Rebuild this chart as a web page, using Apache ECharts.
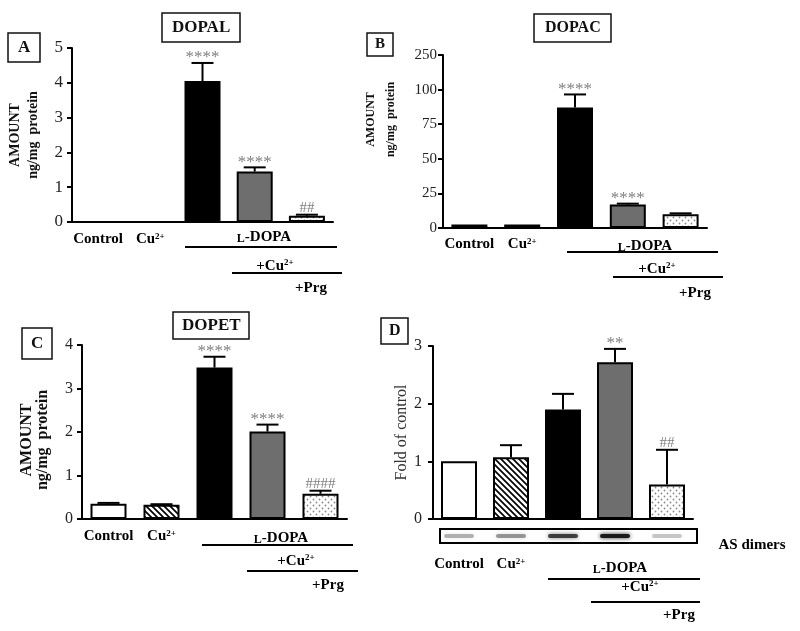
<!DOCTYPE html>
<html>
<head>
<meta charset="utf-8">
<script src="https://cdn.jsdelivr.net/npm/echarts@6/dist/echarts.min.js"></script>
<style>
  html, body { margin: 0; padding: 0; background: #fff; }
  #chart { width: 800px; height: 631px; }
</style>
</head>
<body>
<div id="chart"></div>
<script>
// groups, same order in every panel
const groups = ['Control', 'Cu2+', 'L-DOPA', 'L-DOPA+Cu2+', 'L-DOPA+Cu2+ +Prg']

// A - DOPAL (ng/mg protein)
const dopalMean = [0, 0, 4.05, 1.45, 0.18]
const dopalErr = [0, 0, 0.52, 0.12, 0.03]
const dopalSig = ['', '', '****', '****', '##']

// B - DOPAC (ng/mg protein), broken axis: last step goes 100 -> 250
const dopacMean = [2.5, 2.5, 87, 17, 10]
const dopacErr = [0, 0, 9.5, 0.6, 0.6]
const dopacSig = ['', '', '****', '****', '']
const dopacTicks = ['0', '25', '50', '75', '100', '250']

// C - DOPET (ng/mg protein)
const dopetMean = [0.35, 0.33, 3.48, 2.01, 0.58]
const dopetErr = [0.02, 0.01, 0.25, 0.16, 0.07]
const dopetSig = ['', '', '****', '****', '####']

// D - AS dimers (fold of control) and blot band density
const foldMean = [1.0, 1.07, 1.9, 2.72, 0.6]
const foldErr = [0, 0.21, 0.27, 0.23, 0.6]
const foldSig = ['', '', '', '**', '##']
const blotDensity = [0.3, 0.4, 0.75, 0.95, 0.22]

const serif = '"Liberation Serif", "DejaVu Serif", serif'

// fill patterns
const makeHatch = () => {
  const c = document.createElement('canvas')
  c.width = 6; c.height = 6
  const g = c.getContext('2d')
  g.strokeStyle = '#000'
  g.lineWidth = 1.7
  g.beginPath()
  g.moveTo(-3, 3); g.lineTo(3, 9)
  g.moveTo(0, 0); g.lineTo(6, 6)
  g.moveTo(3, -3); g.lineTo(9, 3)
  g.stroke()
  return c
}
const makeDots = () => {
  const c = document.createElement('canvas')
  c.width = 6; c.height = 6
  const g = c.getContext('2d')
  g.fillStyle = '#fff'
  g.fillRect(0, 0, 6, 6)
  g.fillStyle = '#8a8a8a'
  g.beginPath(); g.arc(1.5, 1.5, 0.9, 0, Math.PI * 2); g.fill()
  g.beginPath(); g.arc(4.5, 4.5, 0.9, 0, Math.PI * 2); g.fill()
  return c
}
const fills = [
  { color: '#fff' },
  { color: { image: makeHatch(), repeat: 'repeat' } },
  { color: '#000' },
  { color: '#6e6e6e' },
  { color: { image: makeDots(), repeat: 'repeat' } }
]

const grids = [
  { left: 72, top: 48, width: 261, height: 174 },
  { left: 443, top: 55, width: 264, height: 173 },
  { left: 82, top: 345, width: 265, height: 174 },
  { left: 433, top: 346, width: 260, height: 173 }
]

const blackLine = { show: true, lineStyle: { color: '#000', width: 2 } }

const xAxisFor = (idx, margin) => ({
  type: 'category',
  gridIndex: idx,
  data: groups,
  axisLine: blackLine,
  axisTick: { show: false },
  axisLabel: {
    margin: margin,
    interval: 0,
    color: '#000',
    fontFamily: serif,
    fontWeight: 'bold',
    fontSize: 15,
    formatter: (v, i) => i === 0 ? 'Control' : (i === 1 ? 'Cu{sup|2+}' : ''),
    rich: { sup: { fontSize: 9, fontWeight: 'bold', fontFamily: serif, verticalAlign: 'top', color: '#000' } }
  }
})

const yAxisFor = (idx, max, interval, fontSize, margin, name, nameOpts) => Object.assign({
  type: 'value',
  gridIndex: idx,
  min: 0,
  max: max,
  interval: interval,
  splitLine: { show: false },
  axisLine: blackLine,
  axisTick: { show: true, length: 5, lineStyle: { color: '#000', width: 2 } },
  axisLabel: { color: '#222', fontFamily: serif, fontSize: fontSize, margin: margin },
  name: name,
  nameLocation: 'middle',
  nameRotate: 90
}, nameOpts)

const barSeries = (idx, mean) => ({
  type: 'bar',
  xAxisIndex: idx,
  yAxisIndex: idx,
  barWidth: 36,
  silent: true,
  itemStyle: { borderColor: '#000', borderWidth: 2 },
  data: mean.map((v, i) => ({ value: v, itemStyle: fills[i] }))
})

const errSeries = (idx, mean, err, sig) => ({
  type: 'custom',
  xAxisIndex: idx,
  yAxisIndex: idx,
  z: 5,
  silent: true,
  data: mean.map((m, i) => [i, m, err[i]]),
  renderItem: (params, api) => {
    const i = api.value(0), m = api.value(1), e = api.value(2)
    const base = api.coord([i, m])
    const top = api.coord([i, m + e])
    const children = []
    if (e > 0.015 * m && e > 0) {
      children.push({ type: 'line', shape: { x1: base[0], y1: base[1], x2: top[0], y2: top[1] }, style: { stroke: '#000', lineWidth: 2 } })
      children.push({ type: 'line', shape: { x1: top[0] - 11, y1: top[1], x2: top[0] + 11, y2: top[1] }, style: { stroke: '#000', lineWidth: 2 } })
    }
    const label = sig[params.dataIndex]
    if (label) {
      const stars = label[0] === '*'
      children.push({
        type: 'text', x: top[0], y: top[1] - (stars ? 5 : 7),
        style: {
          text: label, fill: '#808080', align: 'center', verticalAlign: 'middle',
          font: (stars ? 17 : 15) + 'px ' + serif
        }
      })
    }
    return { type: 'group', children: children }
  }
})

// blot bands under panel D, one per group
const blotSeries = {
  type: 'custom',
  xAxisIndex: 3,
  yAxisIndex: 3,
  clip: false,
  silent: true,
  z: 4,
  data: blotDensity.map((d, i) => [i, d]),
  renderItem: (params, api) => {
    const p = api.coord([api.value(0), 0])
    const d = api.value(1)
    return {
      type: 'rect',
      shape: { x: p[0] - 15, y: p[1] + 15, width: 30, height: 4, r: 2 },
      style: { fill: 'rgba(20,20,20,' + d + ')', shadowBlur: 4, shadowColor: 'rgba(20,20,20,' + d + ')' }
    }
  }
}

const boxTitle = (text, left, top, fontSize, padding) => ({
  text: text,
  left: left,
  top: top,
  padding: padding,
  borderColor: '#111',
  borderWidth: 1.5,
  textStyle: { fontFamily: serif, fontWeight: 'bold', fontSize: fontSize, color: '#111' }
})

const supRich = { sup: { fontSize: 9, fontFamily: serif, fontWeight: 'bold', verticalAlign: 'top', fill: '#000' },
                  s: { fontSize: 12, fontFamily: serif, fontWeight: 'bold', verticalAlign: 'bottom', fill: '#000' } }

const label = (text, x, y) => ({
  type: 'text', x: x, y: y,
  style: { text: text, fill: '#000', align: 'center', verticalAlign: 'middle', rich: supRich, font: 'bold 15px ' + serif }
})
const rule = (x1, x2, y) => ({
  type: 'line', shape: { x1: x1, y1: y, x2: x2, y2: y }, style: { stroke: '#000', lineWidth: 2 }
})

// treatment annotations under each panel
const treatments = (lx, ly, lineY, l1, l2, cx, cy, line2Y, c1, c2, px, py) => [
  label('{s|L}-DOPA', lx, ly), rule(l1, l2, lineY),
  label('+Cu{sup|2+}', cx, cy), rule(c1, c2, line2Y),
  label('+Prg', px, py)
]

const chart = echarts.init(document.getElementById('chart'))
chart.setOption({
  animation: false,
  backgroundColor: '#fff',
  title: [
    boxTitle('A', 8, 33, 17, [6, 10]),
    boxTitle('DOPAL', 162, 13, 17, [6, 10]),
    boxTitle('B', 367, 33, 15, [4, 8]),
    boxTitle('DOPAC', 534, 14, 16, [6, 11]),
    boxTitle('C', 22, 328, 17, [7, 9]),
    boxTitle('DOPET', 173, 312, 17, [5, 9]),
    boxTitle('D', 381, 318, 16, [5, 8])
  ],
  grid: grids.map(g => Object.assign({ outerBoundsMode: 'none' }, g)),
  xAxis: [xAxisFor(0, 10), xAxisFor(1, 9), xAxisFor(2, 10), xAxisFor(3, 38)],
  yAxis: [
    yAxisFor(0, 5, 1, 17, 9, 'AMOUNT\nng/mg  protein', {
      nameGap: 30,
      nameTextStyle: { fontFamily: serif, fontWeight: 'bold', fontSize: 14, lineHeight: 18, color: '#111' }
    }),
    yAxisFor(1, 125, 25, 15, 6, 'AMOUNT\nng/mg  protein', {
      nameGap: 42,
      axisLabel: { color: '#222', fontFamily: serif, fontSize: 15, margin: 6, formatter: v => dopacTicks[Math.round(v / 25)] },
      nameTextStyle: { fontFamily: serif, fontWeight: 'bold', fontSize: 12, lineHeight: 20, color: '#111', padding: [0, 0, 0, 44] }
    }),
    yAxisFor(2, 4, 1, 16, 9, 'AMOUNT\nng/mg  protein', {
      nameGap: 31,
      nameTextStyle: { fontFamily: serif, fontWeight: 'bold', fontSize: 16, lineHeight: 16, color: '#111', padding: [0, 16, 0, 0] }
    }),
    yAxisFor(3, 3, 1, 16, 11, 'Fold of control', {
      nameGap: 23,
      nameTextStyle: { fontFamily: serif, fontSize: 16, color: '#333' }
    })
  ],
  series: [
    barSeries(0, dopalMean), errSeries(0, dopalMean, dopalErr, dopalSig),
    barSeries(1, dopacMean), errSeries(1, dopacMean, dopacErr, dopacSig),
    barSeries(2, dopetMean), errSeries(2, dopetMean, dopetErr, dopetSig),
    barSeries(3, foldMean), errSeries(3, foldMean, foldErr, foldSig),
    blotSeries
  ],
  graphic: [
    ...treatments(264, 237, 247, 185, 337, 275, 266, 273, 232, 342, 311, 288),
    ...treatments(645, 246, 252, 567, 718, 657, 269, 277, 613, 723, 695, 293),
    ...treatments(281, 538, 545, 202, 353, 296, 561, 571, 247, 358, 328, 585),
    ...treatments(620, 568, 579, 548, 700, 640, 587, 602, 591, 700, 679, 615),
    { type: 'rect', shape: { x: 440, y: 529, width: 257, height: 14 }, style: { fill: 'none', stroke: '#000', lineWidth: 2 } },
    { type: 'text', x: 752, y: 545, style: { text: 'AS dimers', fill: '#000', align: 'center', verticalAlign: 'middle', font: 'bold 15px ' + serif } }
  ]
})
</script>
</body>
</html>
